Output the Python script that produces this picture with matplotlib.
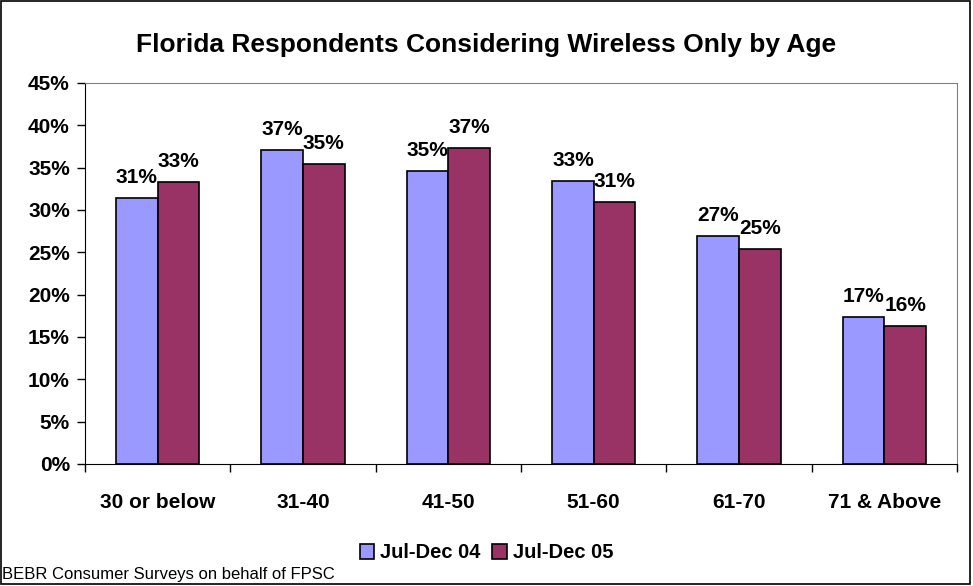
import numpy as np
import matplotlib
matplotlib.use("Agg")
import matplotlib.pyplot as plt
from matplotlib.patches import Rectangle

plt.rcParams['font.family'] = ['Liberation Sans', 'DejaVu Sans']

# data
ages = ['30 or below', '31-40', '41-50', '51-60', '61-70', '71 & Above']
jul_dec_04 = [31.4, 37.1, 34.6, 33.4, 26.9, 17.4]
jul_dec_05 = [33.3, 35.4, 37.3, 30.9, 25.4, 16.3]
series_names = ['Jul-Dec 04', 'Jul-Dec 05']
yticks = [0, 5, 10, 15, 20, 25, 30, 35, 40, 45]

blue = '#9999FF'
maroon = '#993366'

fig = plt.figure(figsize=(9.73, 5.86), dpi=100)
ax = fig.add_axes([0.0874, 0.2082, 0.8962, 0.6502])

x = np.arange(len(ages))
w = 0.286
b1 = ax.bar(x - w/2, jul_dec_04, w, color=blue, edgecolor='black', linewidth=1.2, label=series_names[0])
b2 = ax.bar(x + w/2, jul_dec_05, w, color=maroon, edgecolor='black', linewidth=1.2, label=series_names[1])

for bars in (b1, b2):
    for r in bars:
        v = r.get_height()
        ax.annotate('%d%%' % int(round(v)), (r.get_x() + r.get_width()/2, v),
                    xytext=(0, 8), textcoords='offset points', ha='center', va='bottom',
                    fontsize=15, fontweight='bold')

ax.set_xlim(-0.5, len(ages) - 0.5)
ax.set_ylim(0, 45)
ax.set_yticks(yticks)
ax.set_yticklabels(['%d%%' % t for t in yticks], fontsize=15, fontweight='bold')
ax.set_xticks(x)
ax.set_xticklabels(ages, fontsize=15, fontweight='bold')
ax.set_xticks(np.arange(-0.5, len(ages)), minor=True)
ax.tick_params(axis='x', which='major', length=0, pad=21)
ax.tick_params(axis='x', which='minor', length=6, direction='out', width=1)
ax.tick_params(axis='y', length=6, direction='out', width=1, pad=5)

for s in ('top', 'right'):
    ax.spines[s].set_color('#808080')
for s in ('left', 'bottom'):
    ax.spines[s].set_color('black')

fig.text(0.5, 1 - 45/586, 'Florida Respondents Considering Wireless Only by Age',
         ha='center', va='center', fontsize=19, fontweight='bold')

fig.legend(handles=[b1, b2], labels=series_names, loc='center', bbox_to_anchor=(0.5, 1 - 553/586),
           ncol=2, frameon=False, handlelength=0.7, handleheight=0.7, handletextpad=0.3,
           columnspacing=0.6, prop={'size': 14.5, 'weight': 'bold'})

fig.text(0.002, 1 - 575/586, 'BEBR Consumer Surveys on behalf of FPSC', ha='left', va='center', fontsize=12)

fig.patches.append(Rectangle((0.001, 0.003), 0.996, 0.995, transform=fig.transFigure,
                             fill=False, edgecolor='black', linewidth=1.2))

fig.savefig('out.png', dpi=100)
